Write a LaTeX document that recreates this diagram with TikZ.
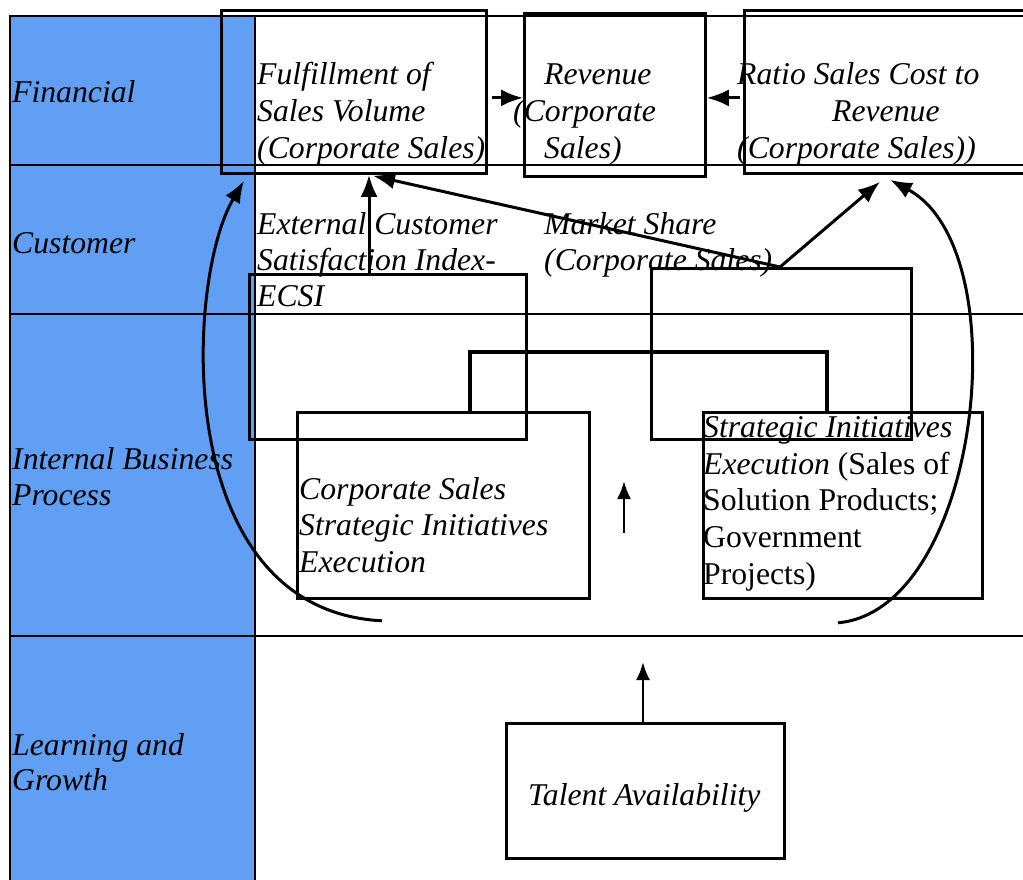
\documentclass[tikz,border=0pt]{standalone}
\usepackage{fontspec}
\setmainfont{Liberation Serif}
\usetikzlibrary{arrows.meta,calc}
\definecolor{laneblue}{RGB}{97,159,245}
\begin{document}
\begin{tikzpicture}[x=1pt,y=-1pt,
  tbl/.style={line width=2.2pt},
  box/.style={draw,line width=2.8pt,anchor=north west,inner sep=0pt},
  conn/.style={line width=3.2pt},
  arr/.style={line width=3pt,-{Latex[length=22pt,width=17pt]}},
  sarr/.style={line width=2.6pt,-{Latex[length=18pt,width=14pt]}},
  lbl/.style={anchor=base west,inner sep=0pt,font=\fontsize{31.7}{37}\selectfont\itshape},
  txt/.style={anchor=base west,inner sep=0pt,font=\fontsize{31.7}{37}\selectfont}]
\useasboundingbox (0,0) rectangle (1023,880);
% lane column
\fill[laneblue] (10,16) rectangle (255,880);
\draw[tbl] (10,880) -- (10,16) -- (1030,16);
\draw[tbl] (255,16) -- (255,880);
\draw[tbl] (10,165) -- (1030,165);
\draw[tbl] (10,314) -- (1030,314);
\draw[tbl] (10,636) -- (1030,636);
% lane labels
\node[lbl] (lf) at (12,103) {Financial};
\node[lbl] (lc) at (12,253) {Customer};
\node[lbl] (li1) at (12,469) {Internal Business};
\node[lbl] (li2) at (12,505) {Process};
\node[lbl] (ll1) at (12,755) {Learning and};
\node[lbl] (ll2) at (12,790) {Growth};
% boxes
\node[box,minimum width=265pt,minimum height=163pt] (fulf) at (220,9) {};
\node[box,minimum width=181pt,minimum height=163pt] (rev) at (523,12) {};
\node[box,minimum width=290pt,minimum height=163pt] (ratio) at (743,9) {};
\node[box,minimum width=277pt,minimum height=165pt] (ecsi) at (248,273) {};
\node[box,minimum width=260pt,minimum height=171pt] (mkt) at (650,267) {};
\node[box,minimum width=292pt,minimum height=186pt] (corp) at (296,411) {};
\node[box,minimum width=279pt,minimum height=186pt] (strat) at (702,411) {};
\node[box,minimum width=278pt,minimum height=135pt] (talent) at (505,722) {};
% box texts
\node[lbl] (f1) at (257,85) {Fulfillment of};
\node[lbl] (f2) at (257,122) {Sales Volume};
\node[lbl] (f3) at (257,159) {(Corporate Sales)};
\node[lbl] (r1) at (544,85) {Revenue};
\node[lbl] (r2) at (513,122) {(Corporate};
\node[lbl] (r3) at (544,159) {Sales)};
\node[lbl] (q1) at (737,85) {Ratio Sales Cost to};
\node[lbl] (q2) at (832,122) {Revenue};
\node[lbl] (q3) at (737,159) {(Corporate Sales))};
\node[lbl] (e1) at (257,234) {External Customer};
\node[lbl] (e2) at (257,270) {Satisfaction Index-};
\node[lbl] (e3) at (257,306) {ECSI};
\node[lbl] (m1) at (544,234) {Market Share};
\node[lbl] (m2) at (544,270) {(Corporate Sales)};
\node[lbl] (c1) at (299,499) {Corporate Sales};
\node[lbl] (c2) at (299,535) {Strategic Initiatives};
\node[lbl] (c3) at (299,572) {Execution};
\node[lbl] (s1) at (703,437) {Strategic Initiatives};
\node[txt] (s2) at (703,474) {\textit{Execution} (Sales of};
\node[txt] (s3) at (703,510) {Solution Products;};
\node[txt] (s4) at (703,547) {Government};
\node[txt] (s5) at (703,584) {Projects)};
\node[lbl] (t1) at (528,805) {Talent Availability};
% connectors
\draw[arr] ($(fulf.east)+(4,6)$) -- ($(rev.west)+(0,3)$);
\draw[arr] ($(ratio.west)+(-3,6)$) -- ($(rev.east)+(0,3)$);
\draw[arr] ($(ecsi.north west)+(121,0)$) -- ($(fulf.south west)+(149,0)$);
\coordinate (mkp) at ($(mkt.north west)+(130,0)$);
\draw[arr] (mkp) -- ($(fulf.south west)+(153,1)$);
\draw[arr] (mkp) -- ($(ratio.south west)+(137,7)$);
\draw[conn] ($(corp.north west)+(174,0)$) -- ++(0,-59) -| ($(strat.north west)+(125,0)$);
\coordinate (mida) at (624,533);
\coordinate (midb) at (624,481);
\draw[sarr] (mida) -- (midb);
\coordinate (tlt) at ($(talent.north west)+(138,-60)$);
\draw[sarr] ($(talent.north west)+(138,0)$) -- (tlt);
\draw[arr] ($(corp.south west)+(86,21)$) .. controls (170,610) and (185,280) .. ($(fulf.south west)+(24,6)$);
\draw[arr] ($(strat.south west)+(136,23)$) .. controls (980,610) and (1020,250) .. ($(ratio.south west)+(147,5)$);
\end{tikzpicture}
\end{document}
